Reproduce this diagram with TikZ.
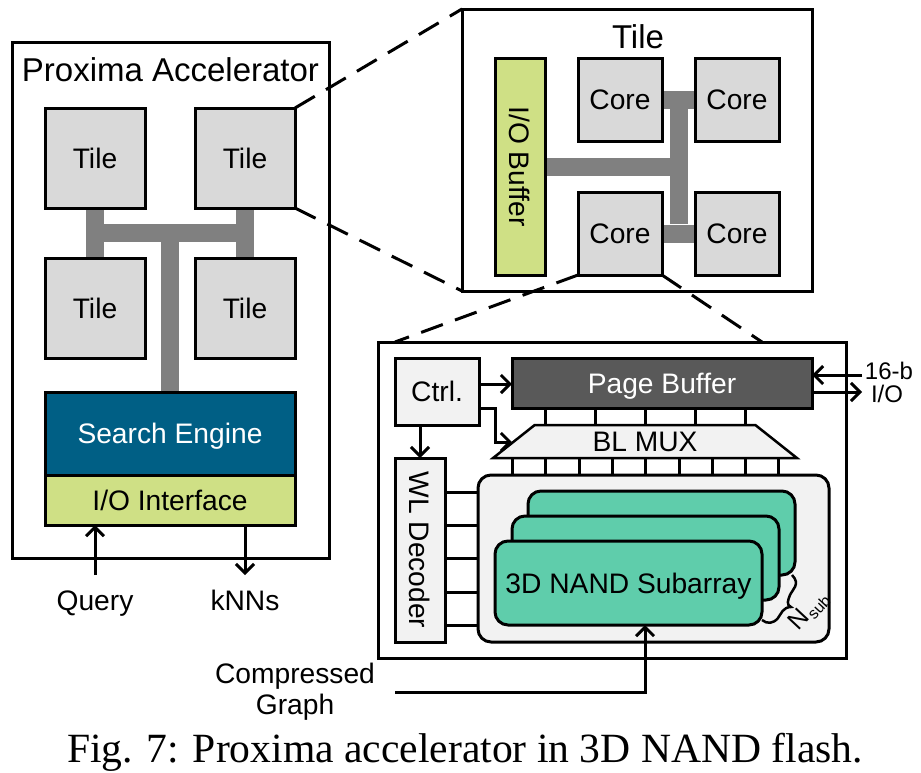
\documentclass[tikz,border=0pt]{standalone}
\usepackage{fontspec}
\setmainfont{Liberation Sans}
\newfontfamily\capfont{Liberation Serif}
\usetikzlibrary{arrows.meta,shapes.geometric,calc}
\definecolor{tilegray}{HTML}{D9D9D9}
\definecolor{lightgray2}{HTML}{F2F2F2}
\definecolor{nandgreen}{HTML}{5FCDAB}
\definecolor{ioyellow}{HTML}{CFE085}
\definecolor{seblue}{HTML}{005F85}
\definecolor{busgray}{HTML}{808080}
\definecolor{pagegray}{HTML}{595959}
\newcommand{\fs}[1]{\fontsize{#1}{#1}\selectfont}
\pgfdeclarelayer{backlayer}
\pgfdeclarelayer{buslayer}
\pgfsetlayers{backlayer,buslayer,main}
\tikzset{
  x=1pt,y=-1pt,
  box/.style={draw=black,line width=3pt,inner sep=0pt,outer sep=0pt,align=center,font=\fs{28.2},text height=20.5pt,text depth=0pt},
  outerbox/.style={box,fill=white},
  tilebox/.style={box,fill=tilegray},
  lightbox/.style={box,fill=lightgray2},
  nand/.style={box,fill=nandgreen,rounded corners=13pt},
  bus/.style={draw=busgray,line width=18pt},
  conn/.style={draw=black,line width=3pt},
  arr/.style={conn,-{Straight Barb[length=9pt,width=18pt,line width=3pt]}},
  zoomline/.style={draw=black,line width=3pt,dash pattern=on 23pt off 13pt},
  lab/.style={inner sep=0pt,outer sep=0pt,align=center,font=\fs{28.2}},
  caplab/.style={lab,text height=20.5pt,text depth=0pt},
}
\begin{document}
\begin{tikzpicture}
\useasboundingbox (0,0) rectangle (921,772);
% big frames
\begin{pgfonlayer}{backlayer}
\node[outerbox,minimum width=317,minimum height=516] (accel) at (170.5,300) {};
\node[outerbox,minimum width=350,minimum height=282] (tilebig) at (637,150) {};
\node[outerbox,minimum width=468,minimum height=316] (corebig) at (612,500) {};
\end{pgfonlayer}
\node[caplab,font=\fs{33},text height=23.5pt] (acctitle) at (170.5,70) {Proxima Accelerator};
\node[caplab,font=\fs{33},text height=23.5pt] (tiletitle) at (638,37) {Tile};
% accelerator interior
\node[box,fill=seblue,text=white,minimum width=250,minimum height=83] (se) at (170,433.5) {Search Engine};
\node[box,fill=ioyellow,minimum width=250,minimum height=50] (ioif) at (170,500) {I/O Interface};
\coordinate (jl) at (95,233);
\coordinate (jr) at (245,233);
\coordinate (jc) at (170,233);
\node[tilebox,minimum width=100,minimum height=100] (t1) at (95,158) {Tile};
\node[tilebox,minimum width=100,minimum height=100] (t2) at (245,158) {Tile};
\node[tilebox,minimum width=100,minimum height=100] (t3) at (95,308) {Tile};
\node[tilebox,minimum width=100,minimum height=100] (t4) at (245,308) {Tile};
\begin{pgfonlayer}{buslayer}
\draw[bus] (t1.south) -- (t3.north);
\draw[bus] (t2.south) -- (t4.north);
\draw[bus] ([xshift=-9pt]jl) -- ([xshift=9pt]jr);
\draw[bus] (jc) -- (se.north);
\end{pgfonlayer}
\node[caplab] (qlab) at (95,600) {Query};
\node[caplab] (klab) at (245,600) {kNNs};
\coordinate (qstart) at (95,575);
\coordinate (kend) at (245,575);
\draw[arr] (qstart) -- (qstart |- ioif.south);
\draw[arr] (kend |- ioif.south) -- (kend);
% tile interior
\node[box,fill=ioyellow,rotate=-90,minimum width=217,minimum height=50] (iobuf) at (520,166.5) {I/O Buffer};
\node[tilebox,minimum width=84,minimum height=83] (c1) at (620,99.5) {Core};
\node[tilebox,minimum width=84,minimum height=83] (c2) at (737,99.5) {Core};
\node[tilebox,minimum width=84,minimum height=83] (c3) at (620,233.5) {Core};
\node[tilebox,minimum width=84,minimum height=83] (c4) at (737,233.5) {Core};
\coordinate (jt) at (679,100);
\coordinate (jb) at (679,233);
\coordinate (jm) at (679,167);
\begin{pgfonlayer}{buslayer}
\draw[bus] (c1.east) -- (c2.west);
\draw[bus] (c3.east) -- (c4.west);
\draw[bus] ([yshift=-9pt]jt) -- ([yshift=9pt]jb);
\draw[bus] (iobuf.north |- jm) -- (jm);
\end{pgfonlayer}
% zoom lines
\draw[zoomline] (t2.north east) -- (tilebig.north west);
\draw[zoomline] (t2.south east) -- (tilebig.south west);
\coordinate (zl) at (395,342);
\coordinate (zr) at (762,342);
\draw[zoomline] (c3.south west) -- (zl);
\draw[zoomline] (c3.south east) -- (zr);
% core interior
\node[lightbox,minimum width=84,minimum height=67] (ctrl) at (437,391.5) {Ctrl.};
\node[box,fill=pagegray,text=white,minimum width=300,minimum height=50] (pb) at (662,383) {Page Buffer};
\node[trapezium,draw=black,fill=lightgray2,inner sep=0pt,outer sep=0pt,line width=2.5pt,trapezium stretches=true,trapezium angle=46,minimum width=304,minimum height=33,font=\fs{28.2},text height=20.5pt,text depth=0pt] (mux) at (645,441.5) {BL MUX};
\node[lightbox,rotate=-90,minimum width=184,minimum height=50] (wl) at (420,550) {WL Decoder};
\node[lightbox,rounded corners=13pt,minimum width=351,minimum height=167] (sub) at (653.5,558.5) {};
\node[nand,minimum width=267,minimum height=84] (n3) at (661.5,533) {};
\node[nand,minimum width=267,minimum height=84] (n2) at (645.5,558) {};
\node[nand,minimum width=267,minimum height=84] (n1) at (628.5,583) {3D NAND Subarray};
\foreach \xx in {545,595,645,695,745} \draw[conn] (\xx,408) -- (\xx,425);
\foreach \xx in {512,545,579,612,645,679,712,745,778} \draw[conn] (\xx,458) -- (\xx,475);
\foreach \yy in {492,525,558,592,625} \draw[conn] (445,\yy) -- (478,\yy);
\draw[arr] (ctrl.east |- 0,384) -- (pb.west |- 0,384);
\coordinate (muxin) at (512,442);
\draw[arr] (ctrl.east |- 0,408) -- (495,408) -- (495,442) -- (muxin);
\draw[arr] (420,425) -- (420,458);
\coordinate (ioinend) at (862,375);
\coordinate (iooutend) at (862,392);
\draw[arr] (ioinend) -- (pb.east |- ioinend);
\draw[arr] (pb.east |- iooutend) -- (iooutend);
\node[lab,font=\fs{24}] (sixteen) at (889,371) {16-b};
\node[lab,font=\fs{24}] (iolab) at (887,394) {I/O};
\coordinate (cgstart) at (395,692);
\draw[arr] (cgstart) -- (645,692) -- (645,625);
\node[lab] (cg) at (295,692) {Compressed\\[3pt]Graph};
\draw[line width=2.5pt] (762,620) .. controls (767,624) and (773,624) .. (778,618) .. controls (781,614) and (783,607) .. (791,607) .. controls (786,605) and (788,600) .. (790,595) .. controls (792,590) and (801,584) .. (792,575);
\node[lab,rotate=47,font=\fs{25}] (nsub) at (809,611) {N\raisebox{-4pt}{\kern1pt\fs{16}sub}};
\node[lab,font={\capfont\fs{41.6}}] (cap) at (465,752) {Fig. 7: Proxima accelerator in 3D NAND flash.};
\end{tikzpicture}
\end{document}
